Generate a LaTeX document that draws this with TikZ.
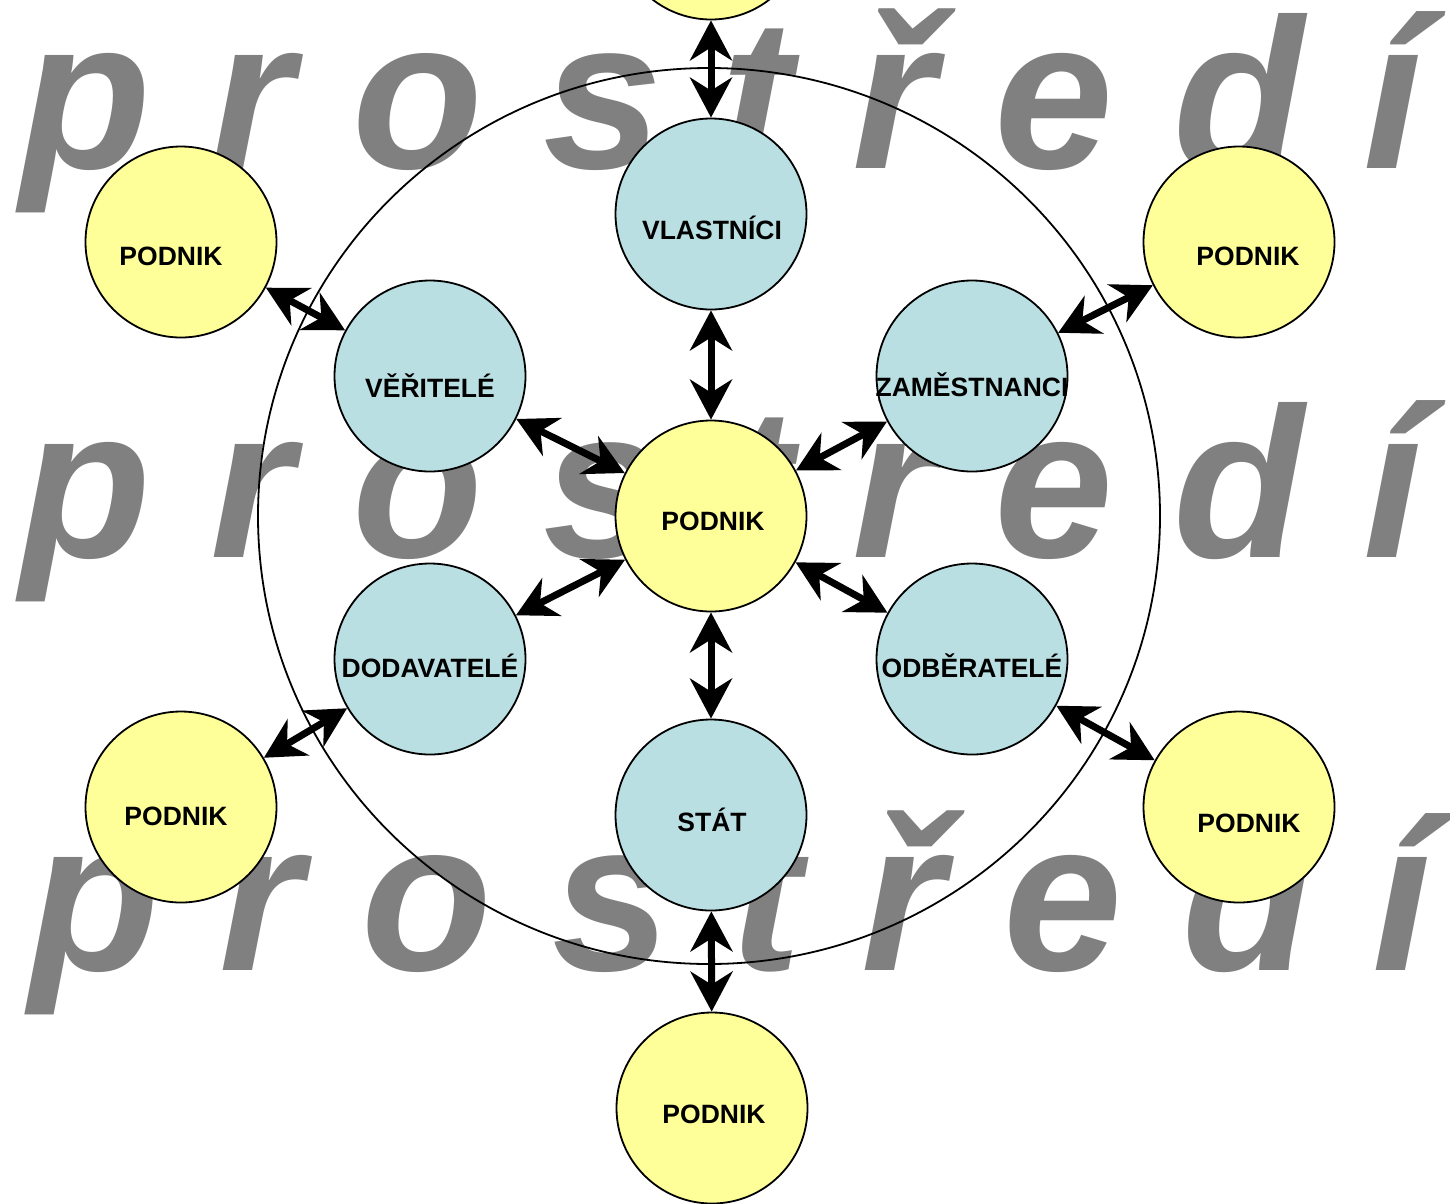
\documentclass[tikz,border=0pt]{standalone}
\usepackage{fontspec}
\setmainfont{Liberation Sans}
\usetikzlibrary{arrows.meta}

\definecolor{firmyellow}{RGB}{255,255,153}
\definecolor{partyblue}{RGB}{185,223,227}
\definecolor{bggray}{RGB}{128,128,128}

\begin{document}
\begin{tikzpicture}[x=1pt,y=-1pt,
  firm/.style={circle, draw=black, line width=1.8pt, fill=firmyellow,
    minimum size=191pt, inner sep=0pt},
  party/.style={firm, fill=partyblue},
  lbl/.style={font=\fontsize{26.5}{30}\selectfont\bfseries, anchor=base,
    inner sep=0pt},
  bgword/.style={font=\fontsize{214}{214}\selectfont\bfseries\itshape,
    text=bggray, anchor=base west, inner sep=0pt},
  tipstyle/.tip={Stealth[length=40pt,width=42pt,inset=13pt]},
  link/.style={tipstyle-tipstyle, line width=7pt}
]
% canvas
\fill[white] (0,0) rectangle (1450,1203);
\useasboundingbox (0,0) rectangle (1450,1203);
\clip (0,0) rectangle (1450,1203);

% background word, three rows
\node[bgword] (w1) at (20,168) {p r o s t ř e d í};
\node[bgword] (w2) at (20,557) {p r o s t ř e d í};
\node[bgword] (w3) at (29,970) {p r o s t ř e d í};

% environment boundary
\draw[line width=1.8pt] (709,516) ellipse [x radius=451, y radius=448];

% circles
\node[firm]  (core)  at (711,516)  {};
\node[party] (own)   at (711,214)  {};
\node[party] (cred)  at (430,376)  {};
\node[party] (staff) at (972,376)  {};
\node[party] (supp)  at (430,659)  {};
\node[party] (cust)  at (972,659)  {};
\node[party] (state) at (711,815)  {};
\node[firm]  (ftop)  at (711,-76)  {};
\node[firm]  (ftl)   at (181,242)  {};
\node[firm]  (ftr)   at (1239,242) {};
\node[firm]  (fbl)   at (181,807)  {};
\node[firm]  (fbr)   at (1239,807) {};
\node[firm]  (fbot)  at (712,1108) {};

% labels
\node[lbl] (tcore)  at (713,530)  {PODNIK};
\node[lbl] (town)   at (712,239)  {VLASTNÍCI};
\node[lbl] (tcred)  at (430,397)  {VĚŘITELÉ};
\node[lbl] (tstaff) at (972,396)  {ZAMĚSTNANCI};
\node[lbl] (tsupp)  at (430,677)  {DODAVATELÉ};
\node[lbl] (tcust)  at (972,677)  {ODBĚRATELÉ};
\node[lbl] (tstate) at (712,831)  {STÁT};
\node[lbl] (tftl)   at (171,265)  {PODNIK};
\node[lbl] (tftr)   at (1248,265) {PODNIK};
\node[lbl] (tfbl)   at (176,825)  {PODNIK};
\node[lbl] (tfbr)   at (1249,832) {PODNIK};
\node[lbl] (tfbot)  at (714,1123) {PODNIK};

% two-way links
\draw[link] (own) -- (ftop);
\draw[link] (core) -- (own);
\draw[link] (core) -- (state);
\draw[link] (state) -- (fbot);
\draw[link] (core) -- (cred);
\draw[link] (core) -- (staff);
\draw[link] (core) -- (supp);
\draw[link] (core) -- (cust);
\draw[link] (cred) -- (ftl);
\draw[link] (staff) -- (ftr);
\draw[link] (supp) -- (fbl);
\draw[link] (cust) -- (fbr);
\end{tikzpicture}
\end{document}
